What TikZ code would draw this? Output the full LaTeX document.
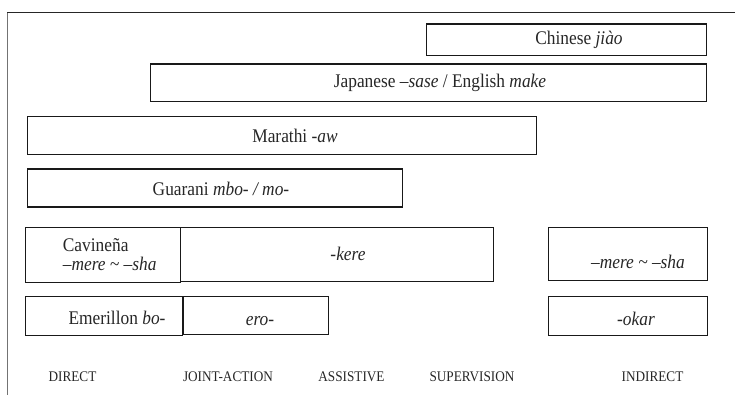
\documentclass[tikz,border=0pt]{standalone}
\usepackage{fontspec}
\setmainfont{Liberation Serif}[FakeStretch=0.9]
\begin{document}
\begin{tikzpicture}[x=1pt,y=-1pt,
  boxst/.style={draw=black!90, line width=1.1pt, inner sep=0pt, anchor=north west},
  txt/.style={font=\fontsize{19.3}{18.5}\selectfont, inner sep=0pt, text=black!85},
  lab/.style={font=\fontsize{14.7}{15}\selectfont, inner sep=0pt, text=black!85}]
\useasboundingbox (0,0) rectangle (735,395);
% outer frame
\coordinate (fbl) at (7.3,400);
\coordinate (ftl) at (7.3,12.3);
\coordinate (ftr) at (740,12.3);
\draw[black!55, line width=1.1pt] (fbl) -- (ftl);
\draw[black!85, line width=1pt] (ftl) -- (ftr);
% boxes
\node[boxst, minimum width=280pt, minimum height=31.5pt] (chinese) at (426,23.5) {};
\node[boxst, minimum width=556.5pt, minimum height=37.5pt] (japanese) at (149.5,63.5) {};
\node[boxst, minimum width=509.5pt, minimum height=38pt] (marathi) at (26.5,116) {};
\node[boxst, minimum width=375.5pt, minimum height=38pt] (guarani) at (26.5,168.5) {};
\node[boxst, minimum width=154.5pt, minimum height=55pt] (cavinena) at (25,227) {};
\node[boxst, minimum width=313.5pt, minimum height=54pt] (kere) at (179.5,227) {};
\node[boxst, minimum width=159pt, minimum height=52.5pt] (mere) at (548,227) {};
\node[boxst, minimum width=157pt, minimum height=39pt] (emerillon) at (25,295.5) {};
\node[boxst, minimum width=145pt, minimum height=38.5pt] (ero) at (182.5,295.5) {};
\node[boxst, minimum width=159pt, minimum height=38.5pt] (okar) at (548,296) {};
% texts
\node[txt] (tchinese) at (579,39.5) {Chinese \textit{jiào}};
\node[txt] (tjapanese) at (440,82.5) {Japanese \textit{–sase} / English \textit{make}};
\node[txt] (tmarathi) at (295,136) {Marathi -\textit{aw}};
\node[txt] (tguarani) at (221,189) {Guarani \textit{mbo- / mo-}};
\node[txt, anchor=west, align=left] (tcavinena) at (62.7,254.5) {Cavineña\\\textit{–mere \textasciitilde{} –sha}};
\node[txt] (tkere) at (348,254) {\textit{-kere}};
\node[txt] (tmere) at (638,262) {\textit{–mere \textasciitilde{} –sha}};
\node[txt] (temerillon) at (117,318) {Emerillon \textit{bo-}};
\node[txt] (tero) at (260,321) {\textit{ero-}};
\node[txt] (tokar) at (636,318.5) {\textit{-okar}};
% axis labels
\node[lab] (ldirect) at (72.5,377) {DIRECT};
\node[lab] (ljoint) at (228,377) {JOINT-ACTION};
\node[lab] (lassist) at (351.5,377) {ASSISTIVE};
\node[lab] (lsuper) at (472,377) {SUPERVISION};
\node[lab] (lindirect) at (652.5,377) {INDIRECT};
\end{tikzpicture}
\end{document}
